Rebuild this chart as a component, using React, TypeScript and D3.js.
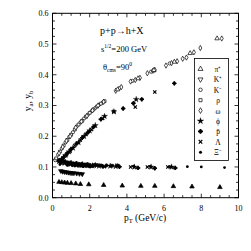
import React from "react";
import * as d3 from "d3";

const xTicks = [0, 2, 4, 6, 8, 10];
const yTicks = [0.0, 0.1, 0.2, 0.3, 0.4, 0.5, 0.6];
const legendNames = ["π⁺", "K⁺", "K⁻", "ρ", "ω", "ϕ", "p̄", "Λ", "Ξ⁻"];

// rising (y_a) series
const kmRise: [number, number][] = [[0.15,0.122],[0.3,0.14],[0.5,0.16],[0.7,0.18],[0.9,0.198],[1.1,0.213],[1.3,0.232],[1.5,0.245],[1.7,0.258],[1.9,0.27],[2.1,0.282],[2.3,0.292],[2.5,0.302],[2.7,0.31],[3.6,0.357],[4.3,0.38],[5.3,0.41],[6.3,0.437]];
const rhoRise: [number, number][] = [[0.2,0.128],[0.4,0.15],[0.6,0.17],[0.8,0.188],[1.0,0.205],[1.2,0.222],[1.4,0.238],[1.6,0.25],[1.8,0.264],[2.0,0.276],[2.2,0.287],[2.4,0.297],[2.6,0.306],[2.8,0.314]];
const omegaRise: [number, number][] = [[0.35,0.145],[0.55,0.165],[0.75,0.185],[0.95,0.2],[1.25,0.228],[1.55,0.248],[1.85,0.266],[2.15,0.284],[2.45,0.3],[2.75,0.312],[3.4,0.348],[3.7,0.36],[4.2,0.378],[4.45,0.383],[4.7,0.39],[5.1,0.405],[5.4,0.413],[5.5,0.416],[6.1,0.43],[6.4,0.438],[6.7,0.444],[7.0,0.452],[7.2,0.456],[7.6,0.473],[7.95,0.487],[9.1,0.518]];
const piRise: [number, number][] = [[3.5,0.352],[4.6,0.388],[5.45,0.415],[6.55,0.442],[7.4,0.47],[8.85,0.518]];
const phiRise: [number, number][] = [[0.5,0.125],[0.7,0.138],[0.9,0.15],[1.1,0.162],[1.4,0.18],[1.7,0.2],[2.0,0.218],[2.3,0.235],[2.8,0.265],[3.3,0.28],[4.5,0.32]];
const pbarRise: [number, number][] = [[0.6,0.132],[0.8,0.145],[1.0,0.158],[1.3,0.176],[1.6,0.195],[1.9,0.212],[2.2,0.23],[2.6,0.255],[3.8,0.29],[4.35,0.307],[4.8,0.32],[6.55,0.372]];
const lamRise: [number, number][] = [[0.55,0.128],[0.75,0.14],[0.95,0.152],[1.2,0.17],[1.5,0.188],[1.8,0.206],[2.1,0.222],[2.7,0.258],[3.3,0.28],[4.45,0.295],[5.5,0.344]];

// flat (y_b) series
const kmFlat: [number, number][] = [[0.2,0.125],[0.5,0.118],[0.8,0.115],[1.1,0.112],[1.4,0.11],[1.7,0.108],[2.0,0.107],[2.4,0.106],[2.9,0.105],[3.5,0.105]];
const rhoFlat: [number, number][] = [[0.3,0.122],[0.6,0.117],[0.9,0.114],[1.2,0.111],[1.5,0.109],[1.8,0.108],[2.2,0.106],[2.6,0.105],[3.2,0.104]];
const omegaFlat: [number, number][] = [[0.4,0.12],[0.7,0.116],[1.0,0.113],[1.3,0.111],[1.6,0.109],[1.9,0.107],[2.3,0.106]];
const phiFlat: [number, number][] = [[0.35,0.118],[0.65,0.113],[0.95,0.11],[1.25,0.108],[1.55,0.106],[1.85,0.105],[2.15,0.104],[2.5,0.103],[3.1,0.103],[3.4,0.102],[4.4,0.1],[5.3,0.1],[6.4,0.1]];
const pbarFlat: [number, number][] = [[0.45,0.115],[0.75,0.111],[1.05,0.108],[1.35,0.106],[1.65,0.104],[2.0,0.103],[2.7,0.102],[3.6,0.101],[4.6,0.097],[5.5,0.096],[6.6,0.097]];
const lamFlat: [number, number][] = [[0.5,0.112],[0.85,0.108],[1.15,0.106],[1.45,0.104],[1.75,0.103],[2.1,0.102],[2.8,0.101],[4.2,0.1],[5.1,0.1],[6.2,0.1]];
const xiFlat: [number, number][] = [[0.4,0.108],[0.8,0.105],[1.2,0.103],[1.6,0.102],[2.0,0.101],[4.35,0.103],[5.25,0.102],[6.3,0.101],[7.25,0.101],[8.0,0.1],[9.25,0.098]];
const kpFlat: [number, number][] = [[0.45,0.087],[0.55,0.085],[0.65,0.084],[0.75,0.083],[0.85,0.082],[0.95,0.081],[1.05,0.08],[1.15,0.08],[1.3,0.079],[1.45,0.078],[1.6,0.077]];
const piFlat: [number, number][] = [[0.35,0.051],[0.5,0.05],[0.65,0.049],[0.8,0.048],[1.0,0.047],[1.25,0.046],[1.5,0.044],[1.95,0.043],[2.75,0.041],[3.75,0.039],[4.75,0.038],[5.5,0.038],[6.5,0.037],[7.5,0.036],[9.0,0.034]];

type Kind = "triUp" | "triDown" | "circle" | "square" | "diamond" | "star" | "pbar" | "cross" | "dot";

const W = 251, H = 251;
const x = d3.scaleLinear().domain([0, 10]).range([52.5, 238.5]);
const y = d3.scaleLinear().domain([0, 0.6]).range([197.7, 13.3]);

function Marker({ kind, cx, cy, filled, s = 1 }: { kind: Kind; cx: number; cy: number; filled: boolean; s?: number }) {
  const fill = filled ? "#000" : "#fff";
  const sw = 0.7;
  const t = `translate(${cx},${cy})`;
  switch (kind) {
    case "triUp":
      return <path transform={t} d={d3.symbol(d3.symbolTriangle, 9 * s)()!} fill={fill} stroke="#000" strokeWidth={sw} />;
    case "triDown":
      return <path transform={`${t} rotate(180)`} d={d3.symbol(d3.symbolTriangle, 9 * s)()!} fill={fill} stroke="#000" strokeWidth={sw} />;
    case "circle":
      return <circle cx={cx} cy={cy} r={1.6 * Math.sqrt(s)} fill={fill} stroke="#000" strokeWidth={sw} />;
    case "square":
      return <path transform={t} d={d3.symbol(d3.symbolSquare, 8 * s)()!} fill={fill} stroke="#000" strokeWidth={sw} />;
    case "diamond":
      return <path transform={t} d={d3.symbol(d3.symbolDiamond, 8 * s)()!} fill={fill} stroke="#000" strokeWidth={sw} />;
    case "star":
      return <path transform={t} d={d3.symbol(d3.symbolStar, 11 * s)()!} fill="#000" stroke="#000" strokeWidth={0.3} />;
    case "pbar":
      return (
        <g transform={t}>
          <circle r={1.5 * Math.sqrt(s)} fill="#000" stroke="#000" strokeWidth={0.5} />
          <path d={d3.symbol(d3.symbolCross, 11 * s)()!} fill="#000" />
        </g>
      );
    case "cross":
      return <path transform={t} d={d3.symbol(d3.symbolX, 8 * s)()!} fill="none" stroke="#000" strokeWidth={1.2} />;
    case "dot":
      return <circle cx={cx} cy={cy} r={1.4 * Math.sqrt(s)} fill="#000" />;
  }
}

const series: { data: [number, number][]; kind: Kind; filled: boolean }[] = [
  { data: piFlat, kind: "triUp", filled: true },
  { data: kpFlat, kind: "triDown", filled: true },
  { data: kmFlat, kind: "circle", filled: true },
  { data: rhoFlat, kind: "square", filled: true },
  { data: omegaFlat, kind: "diamond", filled: true },
  { data: phiFlat, kind: "star", filled: true },
  { data: pbarFlat, kind: "pbar", filled: true },
  { data: lamFlat, kind: "cross", filled: true },
  { data: xiFlat, kind: "dot", filled: true },
  { data: phiRise, kind: "star", filled: true },
  { data: pbarRise, kind: "pbar", filled: true },
  { data: lamRise, kind: "cross", filled: true },
  { data: kmRise, kind: "circle", filled: false },
  { data: rhoRise, kind: "square", filled: false },
  { data: omegaRise, kind: "diamond", filled: false },
  { data: piRise, kind: "triUp", filled: false },
];

const legendKinds: Kind[] = ["triUp", "triDown", "circle", "square", "diamond", "star", "pbar", "cross", "dot"];

export default function App() {
  const [x0, x1] = x.range();
  const [y0, y1] = y.range();
  const xMinor = d3.range(0, 10.001, 0.5);
  const yMinor = d3.range(0, 0.6001, 0.025);
  const font = "'Liberation Serif', 'Times New Roman', serif";
  return (
    <svg width={W} height={H} style={{ position: "absolute", left: 0, top: 0, background: "#fff" }} fontFamily={font}>
      <rect x={0} y={0} width={W} height={H} fill="#fff" />
      <rect x={x0} y={y1} width={x1 - x0} height={y0 - y1} fill="none" stroke="#000" strokeWidth={1} />
      {xMinor.map((v, i) => {
        const major = Math.abs(v / 2 - Math.round(v / 2)) < 1e-6;
        const len = major ? 4 : 2.5;
        return (
          <g key={"xt" + i}>
            <line x1={x(v)} x2={x(v)} y1={y0} y2={y0 - len} stroke="#000" strokeWidth={0.8} />
            <line x1={x(v)} x2={x(v)} y1={y1} y2={y1 + len} stroke="#000" strokeWidth={0.8} />
          </g>
        );
      })}
      {yMinor.map((v, i) => {
        const major = Math.abs(v / 0.1 - Math.round(v / 0.1)) < 1e-6;
        const len = major ? 4 : 2.5;
        return (
          <g key={"yt" + i}>
            <line x1={x0} x2={x0 + len} y1={y(v)} y2={y(v)} stroke="#000" strokeWidth={0.8} />
            <line x1={x1} x2={x1 - len} y1={y(v)} y2={y(v)} stroke="#000" strokeWidth={0.8} />
          </g>
        );
      })}
      {xTicks.map((v) => (
        <text key={"xl" + v} x={x(v)} y={211} fontSize={8} textAnchor="middle">{v}</text>
      ))}
      {yTicks.map((v) => (
        <text key={"yl" + v} x={48.5} y={y(v) + 2.8} fontSize={8} textAnchor="end">{v.toFixed(1)}</text>
      ))}
      <text transform="translate(31,101) rotate(-90)" fontSize={9.5} textAnchor="middle">
        y<tspan fontSize={6.5} dy={2}>a</tspan><tspan dy={-2}>, y</tspan><tspan fontSize={6.5} dy={2}>b</tspan>
      </text>
      <text x={124} y={221} fontSize={9.5}>
        p<tspan fontSize={6.5} dy={2}>T</tspan><tspan dy={-2}> (GeV/c)</tspan>
      </text>
      <text x={100} y={34} fontSize={10}>p+p→h+X</text>
      <text x={101} y={52} fontSize={8.5}>
        s<tspan fontSize={5.5} dy={-4}>1/2</tspan><tspan dy={4}>=200 GeV</tspan>
      </text>
      <text x={103} y={70} fontSize={8.5}>
        θ<tspan fontSize={5.5} dy={2}>cms</tspan><tspan dy={-2}>=90</tspan><tspan fontSize={5.5} dy={-4}>0</tspan>
      </text>
      {series.map((s, si) => (
        <g key={"s" + si}>
          {s.data.map(([px, py], i) => (
            <Marker key={i} kind={s.kind} cx={x(px)} cy={y(py)} filled={s.filled} />
          ))}
        </g>
      ))}
      <rect x={194.5} y={58.5} width={34} height={102} fill="#fff" stroke="#000" strokeWidth={0.8} />
      {legendNames.map((n, i) => {
        const cy = 69 + i * 10.4;
        return (
          <g key={"lg" + i}>
            <Marker kind={legendKinds[i]} cx={200.5} cy={cy} filled={false} s={1.2} />
            <text x={218} y={cy + 3} fontSize={7.5} textAnchor="middle">{n}</text>
          </g>
        );
      })}
    </svg>
  );
}
